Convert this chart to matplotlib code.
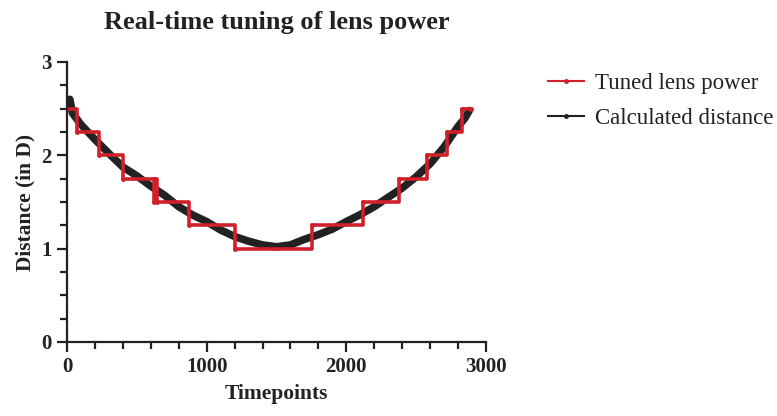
import matplotlib.pyplot as plt
from matplotlib.lines import Line2D
import numpy as np

# calculated distance (timepoint, diopters)
dist_t = [0, 20, 40, 100, 200, 300, 400, 500, 600, 700, 800, 900, 1000, 1100, 1200,
          1300, 1400, 1500, 1600, 1700, 1800, 1900, 2000, 2100, 2200, 2300, 2400,
          2500, 2600, 2700, 2800, 2850, 2880]
dist_v = [2.52, 2.60, 2.45, 2.33, 2.17, 2.02, 1.875, 1.78, 1.67, 1.57, 1.45, 1.36,
          1.29, 1.20, 1.13, 1.08, 1.04, 1.02, 1.04, 1.10, 1.15, 1.21, 1.29, 1.365,
          1.45, 1.55, 1.65, 1.77, 1.91, 2.09, 2.31, 2.40, 2.48]

# tuned lens power, step changes
lens_t = [0, 72, 229, 398, 625, 632, 642, 873, 1203, 1751, 2119, 2377, 2579, 2718, 2825, 2890]
lens_v = [2.5, 2.25, 2.0, 1.75, 1.5, 1.75, 1.5, 1.25, 1.0, 1.25, 1.5, 1.75, 2.0, 2.25, 2.5, 2.5]

red = '#d0202a'
dark = '#222222'

plt.rcParams['font.family'] = ['Liberation Serif', 'DejaVu Serif']

fig = plt.figure(figsize=(7.77, 4.16), dpi=100)
ax = fig.add_axes([0.0862, 0.1779, 0.5393, 0.6731])

ax.plot(dist_t, dist_v, color=dark, lw=5.5, solid_capstyle='round',
        solid_joinstyle='round')
ax.plot(lens_t, lens_v, color=red, lw=2.6, drawstyle='steps-post',
        marker='o', ms=2.5)

ax.set_xlim(0, 3000)
ax.set_ylim(0, 3)
ax.set_xticks([0, 1000, 2000, 3000])
ax.set_xticks(np.arange(0, 3001, 200), minor=True)
ax.set_yticks([0, 1, 2, 3])
ax.set_yticks(np.arange(0, 3.01, 0.25), minor=True)

for s in ['top', 'right']:
    ax.spines[s].set_visible(False)
for s in ['left', 'bottom']:
    ax.spines[s].set_linewidth(1.6)
    ax.spines[s].set_color(dark)
ax.tick_params(which='major', length=7, width=1.6, color=dark, labelsize=15,
               labelcolor=dark, pad=4)
ax.tick_params(which='minor', length=5, width=1.6, color=dark)
for lab in ax.get_xticklabels() + ax.get_yticklabels():
    lab.set_fontweight('bold')

ax.set_xlabel('Timepoints', fontsize=15.5, fontweight='bold', color=dark, labelpad=5)
ax.set_ylabel('Distance (in D)', fontsize=15.5, fontweight='bold', color=dark, labelpad=4)
fig.text(276.5 / 777, 1 - 22 / 416, 'Real-time tuning of lens power', fontsize=19,
         fontweight='bold', color=dark, ha='center', va='center')

handles = [Line2D([], [], color=red, lw=1.5, marker='o', ms=2.5),
           Line2D([], [], color=dark, lw=1.5, marker='o', ms=2.5)]
labels = ['Tuned lens power', 'Calculated distance']
fig.legend(handles, labels, loc='upper left', bbox_to_anchor=(0.679, 0.875),
           frameon=False, fontsize=16.5, handlelength=1.55, handletextpad=0.5,
           labelspacing=0.62, labelcolor=dark)

fig.savefig('out.png', dpi=100)
